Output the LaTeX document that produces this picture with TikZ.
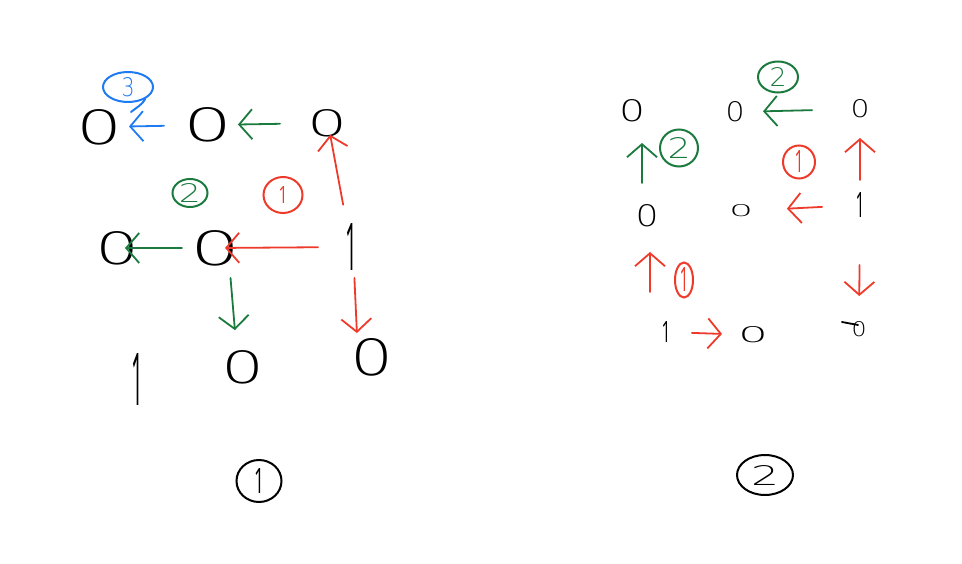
\documentclass[tikz,border=0pt]{standalone}
\usepackage{fontspec}
\usepackage{graphicx}
\setmainfont{Open Sans}
\newfontfamily\thinf{DejaVu Sans ExtraLight}
\newfontfamily\libs{Open Sans}
\usetikzlibrary{arrows.meta,shapes.geometric}
\definecolor{hred}{HTML}{EE3A2A}
\definecolor{hgreen}{HTML}{1B7A3E}
\definecolor{hblue}{HTML}{1F7BF2}
\newcommand\zr[2]{\resizebox{#1pt}{#2pt}{\thinf 0}}
\newcommand\on[2]{\resizebox{#1pt}{#2pt}{\libs 1}}
\newcommand\twd[2]{\resizebox{#1pt}{#2pt}{\thinf 2}}
\newcommand\thr[2]{\resizebox{#1pt}{#2pt}{\thinf 3}}
\begin{document}
\begin{tikzpicture}[x=1pt,y=-1pt,
  dig/.style={inner sep=0pt,outer sep=0pt,text=black},
  lab/.style={ellipse,draw,line width=2pt,inner sep=0pt},
  tail/.style={line width=2pt,line cap=round},
  arr/.style={line width=1.8pt,line cap=round,
    -{Straight Barb[length=13pt,width=30pt,line width=1.8pt]}}]
\useasboundingbox (0,0) rectangle (962,564);
% ---------- picture 1 ----------
\node[dig] (A1) at (100,127) {\zr{46}{35}};
\node[dig] (A2) at (208,125) {\zr{49}{34}};
\node[dig] (A3) at (328,123) {\zr{40}{27}};
\node[dig] (B1) at (118,248) {\zr{44}{33}};
\node[dig] (B2) at (216,248) {\zr{50}{35}};
\node[dig] (B3) at (351,247) {\on{12}{47}};
\node[dig] (C1) at (137,379) {\on{12}{52}};
\node[dig] (C2) at (243,367) {\zr{43}{33}};
\node[dig] (C3) at (372,357) {\zr{43}{37}};
\node[lab,hblue,text=hblue,minimum width=50pt,minimum height=30pt] (L3) at (128,87) {\thr{13}{19}};
\draw[tail,hblue] (L3.-35) to[out=-120,in=40] (131,112);
\node[lab,hgreen,text=hgreen,minimum width=35pt,minimum height=28pt] (L2) at (190,193) {\twd{22}{19}};
\node[lab,hred,text=hred,minimum width=39pt,minimum height=36pt] (L1) at (283,195) {\on{9}{17}};
\node[lab,black,minimum width=45pt,minimum height=42pt] (N1) at (259,481) {\on{10}{25}};
\draw[arr,hblue,shorten <=44pt,shorten >=29pt] (A2.center) -- (A1.center);
\draw[arr,hgreen,shorten <=48pt,shorten >=30pt] (A3.center) -- (A2.center);
\draw[arr,hgreen,shorten <=34pt,shorten >=7pt] (B2.center) -- (B1.center);
\draw[arr,hred,shorten <=33pt,shorten >=9pt] (B3.center) -- (B2.center);
\draw[arr,hred,shorten <=43pt,shorten >=12pt] (B3.center) -- (A3.center);
\draw[arr,hred,shorten <=31pt,shorten >=24pt] ([xshift=2pt]B3.center) -- ([xshift=-14pt]C3.center);
\draw[arr,hgreen,shorten <=30pt,shorten >=37pt] ([xshift=12pt]B2.center) -- ([xshift=-5pt]C2.center);
% ---------- picture 2 ----------
\node[dig] (P1) at (632,111) {\zr{26}{22}};
\node[dig] (P2) at (735,112) {\zr{19}{20}};
\node[dig] (P3) at (860,109) {\zr{19}{18}};
\node[dig] (Q1) at (647,216) {\zr{23}{22}};
\node[dig] (Q2) at (741,211) {\zr{24}{12}};
\node[dig] (Q3) at (860,205) {\on{9}{25}};
\node[dig] (R1) at (666,332) {\on{9}{21}};
\node[dig] (R2) at (753,335) {\zr{30}{16}};
\node[dig] (R3) at (859,329) {\zr{15}{15}};
\draw[line width=1.8pt,line cap=round] ([xshift=-17pt,yshift=7pt]R3.center) -- ([xshift=-1pt,yshift=4pt]R3.center);
\node[lab,hgreen,text=hgreen,minimum width=40pt,minimum height=31pt] (G2a) at (778,77) {\twd{17}{19}};
\node[lab,hgreen,text=hgreen,minimum width=38pt,minimum height=37pt] (G2b) at (679,148) {\twd{23}{21}};
\node[lab,hred,text=hred,minimum width=32pt,minimum height=33pt] (R1a) at (799,162) {\on{9}{22}};
\node[lab,hred,text=hred,minimum width=18pt,minimum height=35pt] (R1b) at (684,280) {\on{9}{24}};
\node[lab,black,minimum width=56pt,minimum height=40pt] (N2) at (765,475) {\twd{28}{20}};
\draw[arr,hgreen,shorten <=48pt,shorten >=28pt] (P3.center) -- (P2.center);
\draw[arr,hgreen,shorten <=33pt,shorten >=32pt] ([xshift=-5pt]Q1.center) -- ([xshift=10pt]P1.center);
\draw[arr,hred,shorten <=25pt,shorten >=29pt] (Q3.center) -- (P3.center);
\draw[arr,hred,shorten <=38pt,shorten >=46pt] (Q3.center) -- (Q2.center);
\draw[arr,hred,shorten <=40pt,shorten >=36pt] ([xshift=-16pt]R1.center) -- ([xshift=3pt]Q1.center);
\draw[arr,hred,shorten <=60pt,shorten >=33pt] (Q3.center) -- (R3.center);
\draw[arr,hred,shorten <=26pt,shorten >=31pt] (R1.center) -- (R2.center);
\end{tikzpicture}
\end{document}
